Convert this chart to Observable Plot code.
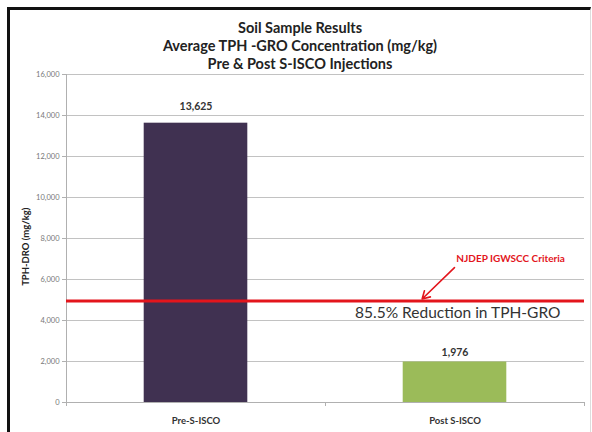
<!DOCTYPE html>
<html>
<head>
<meta charset="utf-8">
<script src="https://cdn.jsdelivr.net/npm/d3@7"></script>
<script src="https://cdn.jsdelivr.net/npm/@observablehq/plot@0.6"></script>
<style>
  html, body { margin: 0; padding: 0; background: #fff; }
  #wrap { position: relative; width: 592px; height: 432px; overflow: hidden; font-family: Lato, "Open Sans", sans-serif; }
  #frame { position: absolute; left: 7px; top: 7px; width: 580px; height: 440px; border-left: 3px solid #111; border-top: 3px solid #111; border-right: 1px solid #ddd; pointer-events: none; }
  #title { position: relative; z-index: 1; height: 60px; padding-top: 19px; box-sizing: border-box; text-align: center; font-weight: bold; font-size: 14.5px; line-height: 18px; color: #222; padding-left: 8px; }
  #title div { white-space: nowrap; }
</style>
</head>
<body>
<div id="wrap">
  <div id="frame"></div>
  <div id="title">
    <div>Soil Sample Results</div>
    <div>Average TPH -GRO Concentration (mg/kg)</div>
    <div>Pre &amp; Post S-ISCO Injections</div>
  </div>
  <div id="chart"></div>
</div>
<script>
// ---- data ----
const categories = ["Pre-S-ISCO", "Post S-ISCO"];
const values = [13625, 1976];
const valueLabels = ["13,625", "1,976"];
const yTicks = [0, 2000, 4000, 6000, 8000, 10000, 12000, 14000, 16000];
const criteriaValue = 4950;
const criteriaLabel = "NJDEP IGWSCC Criteria";
const reductionLabel = "85.5% Reduction in TPH-GRO";
const yAxisTitle = "TPH-DRO (mg/kg)";

// ---- styles ----
const barColors = ["#403151", "#9bbb59"];
const red = "#e3151c";

const data = categories.map((c, i) => ({category: c, index: i, value: values[i], label: valueLabels[i]}));

const chart = Plot.plot({
  width: 592,
  height: 372,
  marginTop: 14,
  marginBottom: 30,
  marginLeft: 66,
  marginRight: 8,
  style: {background: "transparent", fontFamily: "Lato, 'Open Sans', sans-serif"},
  x: {domain: [-0.5, 1.5]},
  y: {domain: [0, 16000]},
  marks: [
    Plot.gridY(yTicks, {stroke: "#c2c2c2", strokeOpacity: 1}),
    Plot.axisY(yTicks, {tickFormat: d3.format(","), tickSize: 4, tickPadding: 3, stroke: "#b0b0b0", fill: "#777", fontSize: 7.5, label: null}),
    Plot.ruleX([-0.5], {y1: 0, y2: 16000, stroke: "#b0b0b0"}),
    Plot.ruleY([0], {stroke: "#b0b0b0"}),
    Plot.axisX({ticks: [-0.5, 0.5, 1.5], tickSize: 4, tickFormat: () => "", stroke: "#b0b0b0", label: null}),
    Plot.axisX({ticks: [0, 1], tickFormat: i => categories[i], tickSize: 0, tickPadding: 15, fontSize: 9.5, fontWeight: "bold", fill: "#333", label: null}),
    Plot.rectY(data, {x1: d => d.index - 0.2, x2: d => d.index + 0.2, y1: 0, y2: "value", fill: d => barColors[d.index]}),
    Plot.text(data.filter(d => d.index === 0), {x: "index", y: "value", text: "label", dy: -17, fontSize: 10.5, fontWeight: "bold", fill: "#333"}),
    Plot.text(data.filter(d => d.index === 1), {x: "index", y: "value", text: "label", dy: -9, fontSize: 10.5, fontWeight: "bold", fill: "#333"}),
    Plot.ruleY([criteriaValue], {stroke: red, strokeWidth: 3}),
    Plot.text([criteriaLabel], {x: 1.005, y: 7000, text: d => d, textAnchor: "start", fill: red, fontSize: 10, fontWeight: "bold"}),
    Plot.arrow([{x1: 0.998, y1: 6580, x2: 0.873, y2: 5050}], {x1: "x1", y1: "y1", x2: "x2", y2: "y2", stroke: red, strokeWidth: 1.6, headLength: 8}),
    Plot.text([reductionLabel], {x: 1.407, y: 4350, text: d => d, textAnchor: "end", fill: "#333", fontSize: 15.5}),
    Plot.text([yAxisTitle], {frameAnchor: "left", y: () => 7600, text: d => d, rotate: -90, textAnchor: "middle", dx: -41, fontSize: 9.5, fontWeight: "bold", fill: "#222"})
  ]
});
document.getElementById("chart").appendChild(chart);
</script>
</body>
</html>
